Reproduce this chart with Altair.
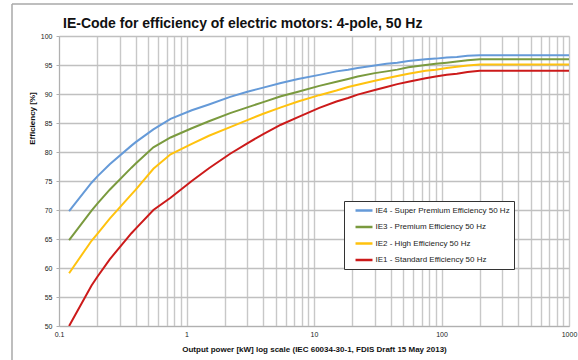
import altair as alt
import pandas as pd

# Rated output power [kW] (IEC 60034-30-1 steps), extended flat to 1000 kW
power_kw = [0.12, 0.18, 0.2, 0.25, 0.37, 0.4, 0.55, 0.75, 1.1, 1.5, 2.2, 3, 4,
            5.5, 7.5, 11, 15, 18.5, 22, 30, 37, 45, 55, 75, 90, 110, 132, 160,
            200, 1000]

# Nominal efficiency [%], 4-pole, 50 Hz
ie4 = [69.8, 74.7, 75.8, 77.9, 81.1, 81.7, 83.9, 85.7, 87.2, 88.2, 89.5, 90.4,
       91.1, 91.9, 92.6, 93.3, 93.9, 94.2, 94.5, 94.9, 95.2, 95.4, 95.7, 96.0,
       96.1, 96.3, 96.4, 96.6, 96.7, 96.7]
ie3 = [64.8, 69.9, 71.1, 73.5, 77.3, 78.0, 80.8, 82.5, 84.1, 85.3, 86.7, 87.7,
       88.6, 89.6, 90.4, 91.4, 92.1, 92.6, 93.0, 93.6, 93.9, 94.2, 94.6, 95.0,
       95.2, 95.4, 95.6, 95.8, 96.0, 96.0]
ie2 = [59.1, 64.7, 65.9, 68.5, 72.7, 73.5, 77.1, 79.6, 81.4, 82.8, 84.3, 85.5,
       86.6, 87.7, 88.7, 89.8, 90.6, 91.2, 91.6, 92.3, 92.7, 93.1, 93.5, 94.0,
       94.2, 94.5, 94.7, 94.9, 95.1, 95.1]
ie1 = [50.0, 57.0, 58.5, 61.5, 66.0, 66.8, 70.0, 72.1, 75.0, 77.2, 79.7, 81.5,
       83.1, 84.7, 86.0, 87.6, 88.7, 89.3, 89.9, 90.7, 91.2, 91.7, 92.1, 92.7,
       93.0, 93.3, 93.5, 93.8, 94.0, 94.0]

series_names = [
    "IE4 - Super Premium Efficiency 50 Hz",
    "IE3 - Premium Efficiency 50 Hz",
    "IE2 - High Efficiency 50 Hz",
    "IE1 - Standard Efficiency 50 Hz",
]
series_colors = ["#659ad8", "#7a9a3e", "#ffc20e", "#cc1a1a"]

# Log grid: 1..9 in every decade from 0.1 to 1000
grid_x = [m * 10.0 ** e for e in range(-1, 3) for m in range(1, 10)] + [1000]
grid_x = [round(v, 6) for v in grid_x]
grid_y = list(range(50, 101, 5))

rows = []
for name, vals in zip(series_names, [ie4, ie3, ie2, ie1]):
    for p, v in zip(power_kw, vals):
        rows.append({"series": name, "power": p, "eff": v})
df = pd.DataFrame(rows)

FONT = "Liberation Sans"

lines = alt.Chart(df).mark_line(strokeWidth=2, clip=True).encode(
    x=alt.X(
        "power:Q",
        scale=alt.Scale(type="log", domain=[0.1, 1000], nice=False),
        axis=alt.Axis(
            values=grid_x,
            labelExpr="indexof([0.1, 1, 10, 100, 1000], datum.value) >= 0 ? (datum.value < 1 ? '0.1' : format(datum.value, 'd')) : ''",
            title="Output power [kW]  log scale (IEC 60034-30-1, FDIS Draft 15 May 2013)",
            titleX=255, titleY=23, titleBaseline="middle",
            titleFontSize=8, titleFontWeight="bold", titleFont=FONT,
            titleColor="#111111",
            labelFontSize=7, labelFont=FONT, labelColor="#222222",
            labelPadding=4, tickSize=0, labelFlush=False,
            grid=True, gridColor="#c8c8c8", gridWidth=1.4,
            domainColor="#b0b0b0",
        ),
    ),
    y=alt.Y(
        "eff:Q",
        scale=alt.Scale(domain=[50, 100], nice=False, zero=False),
        axis=alt.Axis(
            values=grid_y,
            title="Efficiency [%]",
            titleX=-27, titleY=82, titleAngle=270,
            titleAlign="center", titleBaseline="middle",
            titleFontSize=8, titleFontWeight="bold", titleFont=FONT,
            titleColor="#111111",
            labelFontSize=7, labelFont=FONT, labelColor="#222222",
            labelPadding=4, tickSize=3, tickColor="#b0b0b0",
            grid=True, gridColor="#c0c0c0", gridWidth=1.4,
            domainColor="#b0b0b0",
        ),
    ),
    color=alt.Color(
        "series:N",
        scale=alt.Scale(domain=series_names, range=series_colors),
        sort=series_names,
        legend=alt.Legend(
            title=None, orient="none", legendX=285, legendY=165,
            direction="vertical",
            symbolType="M-2,0L2,0", symbolSize=72, symbolStrokeWidth=2.5,
            symbolOffset=10.5,
            labelFontSize=8, labelFont=FONT, labelColor="#222222",
            labelOffset=6, rowPadding=5.5,
            padding=4, strokeColor="#333333", fillColor="white",
            labelLimit=300,
        ),
    ),
)

# Outer chart frame (left and top edges)
frame_df = pd.DataFrame({"k": [0]})
frame_left = alt.Chart(frame_df).mark_rule(color="#a8a8a8", strokeWidth=1.5).encode(
    x=alt.value(-47), y=alt.value(-32), y2=alt.value(324)
)
frame_top = alt.Chart(frame_df).mark_rule(color="#a8a8a8", strokeWidth=1.5).encode(
    x=alt.value(-47), x2=alt.value(514), y=alt.value(-32)
)

chart = alt.layer(frame_left, frame_top, lines).properties(
    width=510,
    height=290,
    autosize=alt.AutoSizeParams(type="none"),
    padding={"left": 59, "top": 36, "right": 9, "bottom": 34},
    title=alt.TitleParams(
        "IE-Code for efficiency of electric motors: 4-pole, 50 Hz",
        anchor="start", frame="group", dx=4, dy=39, offset=0,
        baseline="alphabetic",
        fontSize=14, fontWeight="bold", font=FONT, color="#111111",
    ),
).configure_view(stroke=None).configure(background="white")

chart.save("out.html", embed_options={"renderer": "svg", "actions": False})
